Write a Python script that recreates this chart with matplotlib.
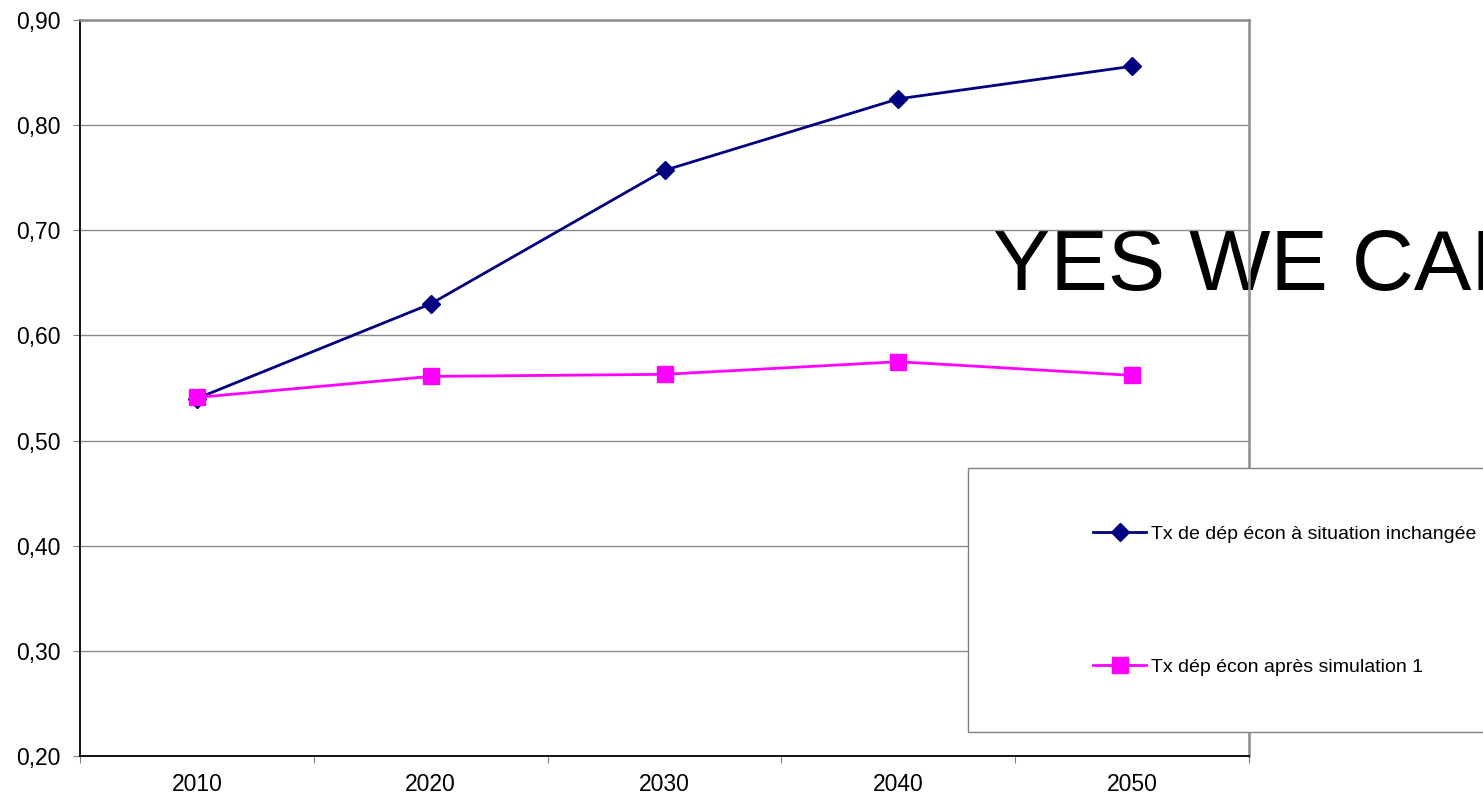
import matplotlib.pyplot as plt
from matplotlib.patches import Rectangle
from matplotlib.ticker import FixedLocator, FuncFormatter

plt.rcParams['font.family'] = ['Liberation Sans', 'DejaVu Sans']

# données
annees = ['2010', '2020', '2030', '2040', '2050']
tx_inchangee = [0.54, 0.63, 0.757, 0.825, 0.856]
tx_simulation = [0.541, 0.561, 0.563, 0.575, 0.562]

W, H = 1483, 795
fig = plt.figure(figsize=(W / 100, H / 100), dpi=100)
ax = fig.add_axes([80 / W, 1 - 756 / H, (1249 - 80) / W, (756 - 20) / H])

x = list(range(len(annees)))
l1, = ax.plot(x, tx_inchangee, color='#000080', lw=2, marker='D', ms=9.5,
              label='Tx de dép écon à situation inchangée', zorder=3)
l2, = ax.plot(x, tx_simulation, color='#FF00FF', lw=2, marker='s', ms=11,
              label='Tx dép écon après simulation 1', zorder=3)

ax.set_xlim(-0.5, len(annees) - 0.5)
ax.set_ylim(0.20, 0.90)
ax.set_yticks([0.2 + 0.1 * i for i in range(8)])
ax.yaxis.set_major_formatter(FuncFormatter(lambda v, p: f'{v:.2f}'.replace('.', ',')))
ax.xaxis.set_major_locator(FixedLocator([i - 0.5 for i in range(len(annees) + 1)]))
ax.xaxis.set_major_formatter(FuncFormatter(lambda v, p: ''))
ax.xaxis.set_minor_locator(FixedLocator(x))
ax.set_xticklabels(annees, minor=True)
ax.tick_params(axis='x', which='minor', length=0, pad=12, labelsize=16.5)
ax.tick_params(axis='x', which='major', length=5, color='#808080')
ax.tick_params(axis='y', length=5, labelsize=16.5, pad=9, color='#808080')

ax.yaxis.grid(True, color='#8c8c8c', lw=1)
ax.set_axisbelow('line')
for s in ['top', 'right']:
    ax.spines[s].set_color('#8c8c8c')
    ax.spines[s].set_linewidth(1.8)
ax.spines['left'].set_linewidth(1.3)
ax.spines['bottom'].set_linewidth(1.3)

# texte coupé au bord droit, comme dans l'original
ax.text(993 / W, 1 - 290 / H, 'YES WE CAN', transform=fig.transFigure,
        fontsize=62, color='black', ha='left', va='baseline', clip_on=False, zorder=1)

# cadre de la légende
fig.patches.append(Rectangle((968 / W, 1 - 732 / H), 600 / W, 264 / H,
                             transform=fig.transFigure, fc='white', ec='#808080',
                             lw=1, zorder=5))
leg = fig.legend(handles=[l1, l2], loc='upper left', frameon=False,
                 bbox_to_anchor=(1093 / W, 1 - 525 / H), fontsize=14,
                 handlelength=2.73, handletextpad=0.26, labelspacing=5.96,
                 borderpad=0, borderaxespad=0)
leg.set_zorder(6)

fig.savefig('out.png', dpi=100)
